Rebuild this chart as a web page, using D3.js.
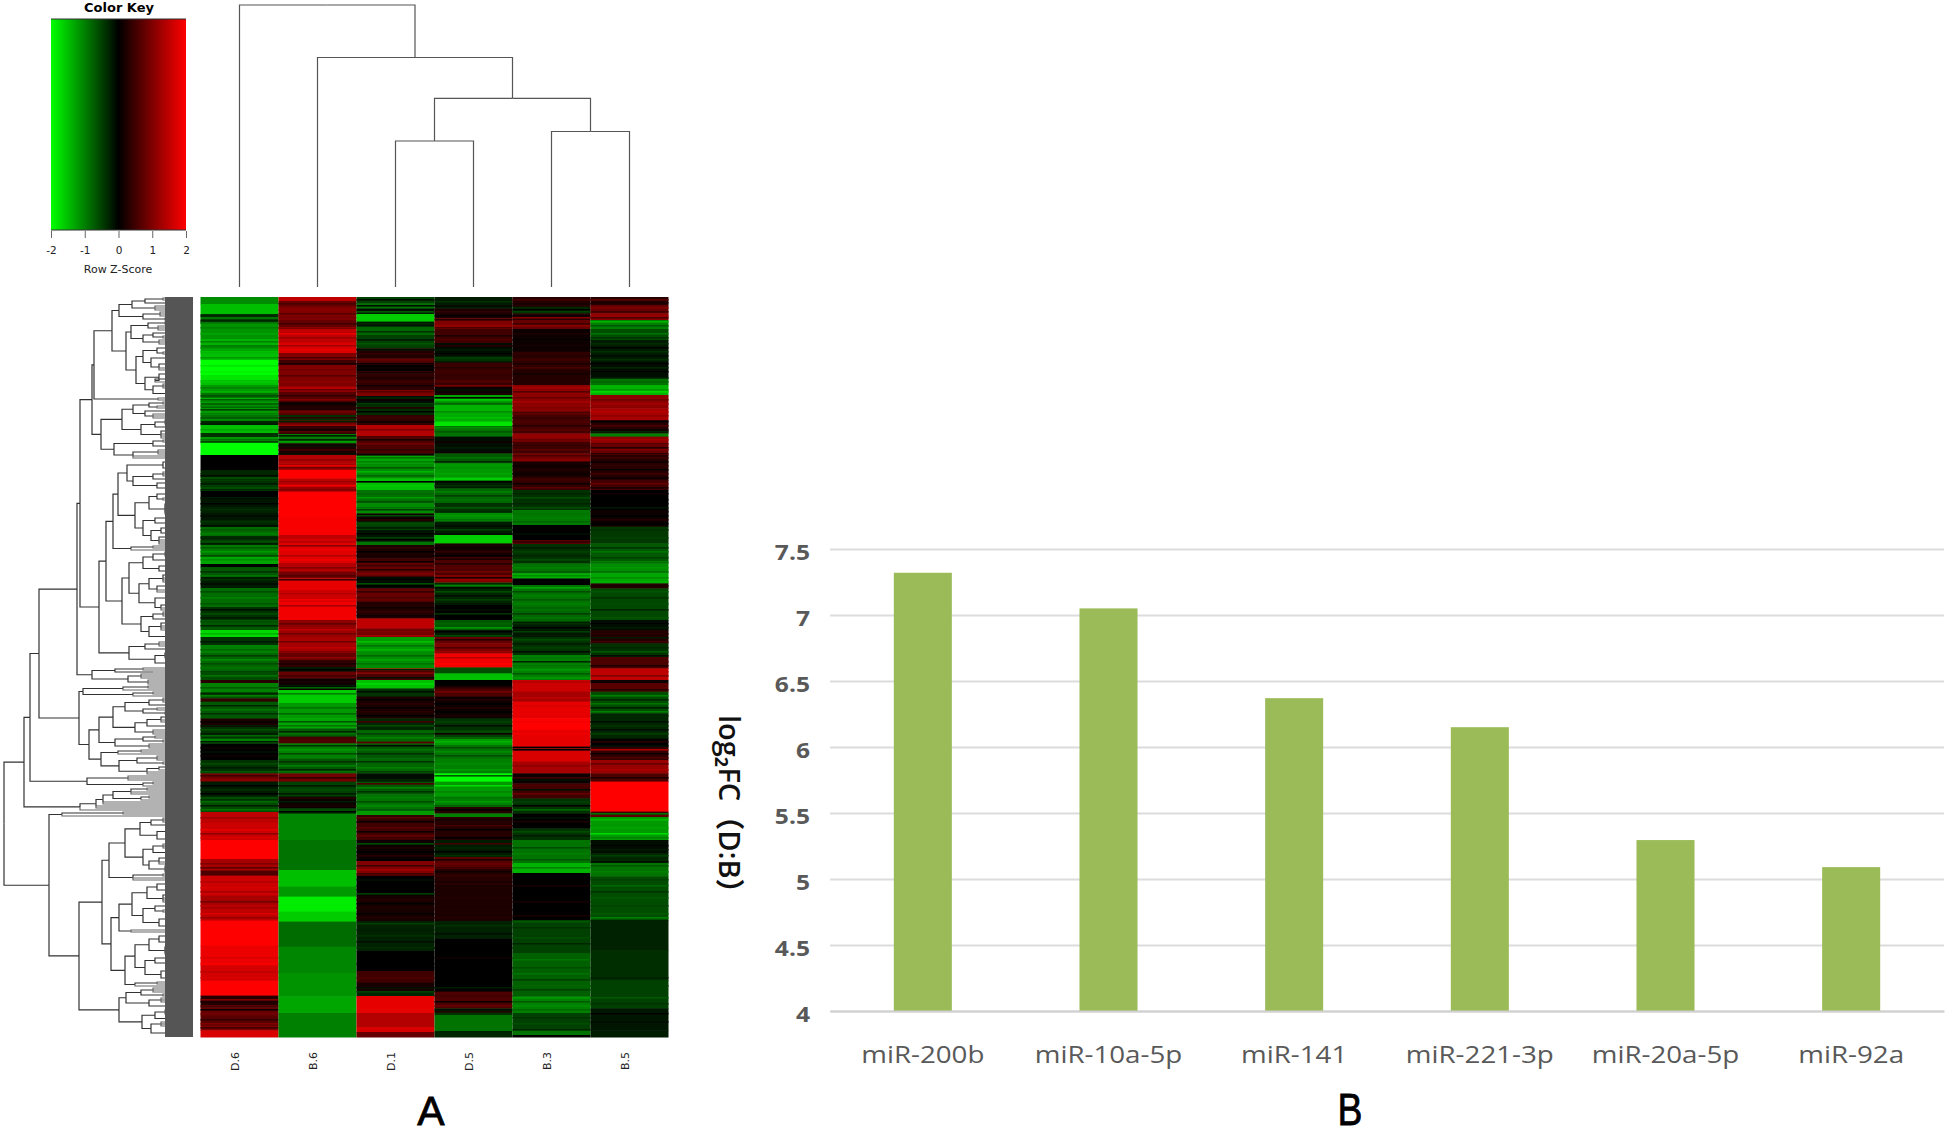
<!DOCTYPE html>
<html lang="en">
<head>
<meta charset="UTF-8">
<title>miRNA heatmap and log2FC bars</title>
<script src="https://d3js.org/d3.v7.min.js"></script>
<style>
  body { margin: 0; background: #fff; }
  svg { display: block; }
  text { font-family: "DejaVu Sans", sans-serif; }
  .bars text { font-family: "Open Sans", "Noto Sans CJK SC", sans-serif; fill: #595959; }
</style>
</head>
<body>
<svg id="chart" width="1946" height="1134"></svg>
<script>
  // Panel A: samples in heatmap order
  const samples = ["D.6", "B.6", "D.1", "D.5", "B.3", "B.5"];

  // Row z-scores per sample, as runs of [last row of the run, z]
  const zD6 = [[3.5,-1.1],[8.5,-1.5],[10,-0.4],[11,-0.9],[13,-0.5],[21,-1.15],[24,-1.4],[25.5,-1],[28,-1.3],[31.5,-1.5],[39,-2],[41.5,-1.8],[44,-1.5],[48,-1.2],[50.5,-0.9],[53,-1.4],[55.5,-0.8],[59,-1.2],[62,-0.9],[64,-0.3],[68,-1.5],[70,-0.4],[73,-1.2],[79,-2],[86.5,-0.02],[90,-0.3],[92,-0.6],[95,-0.4],[97,-0.6],[101,-0.05],[105,-0.15],[108,-0.25],[111.5,-0.15],[115,-0.3],[119.5,-0.85],[121.5,-0.35],[124,-0.5],[130,-0.95],[133.5,-1.3],[135,-0.05],[140,-0.7],[145.5,-0.2],[155,-0.85],[161.5,-0.4],[166.5,-0.7],[170,-1.7],[174,-0.4],[178,-1],[188,-0.8],[191.5,-0.6],[193,0.3],[197.5,-1],[200.7,-0.6],[202.3,0.4],[210.7,-0.7],[215,0.2],[220.8,-0.4],[223.2,-1],[231.5,0],[238.2,-0.4],[242.3,0.9],[249.8,-0.2],[257.5,-0.6],[263,1.5],[271.5,1.6],[281,2],[286.8,1.3],[289.3,0.6],[299.3,1.6],[306,1.3],[311.8,1.5],[324.3,2],[334.3,1.85],[341.8,1.65],[349.3,2],[355.2,0.3],[359.3,0.8],[364.3,0.7],[366.7,1],[370,1.7]];
  const zB6 = [[2,1.5],[4.8,0.8],[11.5,1],[16,0.8],[22.8,1.5],[28,1.7],[31.5,1],[34,0.5],[44.8,1],[47.3,1.4],[52.3,0.7],[56.5,0.2],[59,0.7],[61.8,-0.4],[64.5,1.2],[68.5,0.4],[70.7,-1],[73.2,-0.8],[79,0.2],[83.2,1.4],[86.5,1.3],[90.7,2],[94.8,1.5],[97.3,1.2],[110,2],[119,1.95],[123,1.5],[133,1.75],[137.3,1.4],[140.7,0.9],[146.5,1.8],[152.3,1.6],[161.5,1.9],[164.8,1.1],[170,1.2],[178,1.3],[181.5,0.8],[185,0.4],[187.3,-0.2],[190.7,0.8],[196.5,0.1],[203,-1.6],[210.7,-1.2],[215.7,-1.3],[219.8,-0.7],[223.2,0.6],[230.7,-1],[238.2,-0.7],[242.3,0.9],[249.8,-0.5],[255.7,0.1],[258.5,-0.6],[271.5,-1.05],[286.5,-0.9],[294.8,-1.5],[299.8,-1.2],[307.3,-1.85],[312.3,-1.6],[324.8,-0.85],[338,-1.05],[349.7,-1.15],[358,-1.3],[370,-1]];
  const zD1 = [[3.2,-0.5],[5.7,-0.9],[8.5,-0.2],[12.3,-1.6],[14.8,-0.15],[19,-0.8],[25.7,-0.5],[30.7,0.25],[34,0.6],[38.2,0],[46.5,0.35],[49.5,1],[54,-0.1],[59,-0.35],[64,0.4],[69.5,1.4],[78.2,0.6],[79.3,0.1],[83.2,-1.3],[90.7,-1.1],[96.5,-1.5],[103.2,-0.9],[108.2,-1.1],[112.3,0.1],[116.5,-0.5],[122.3,-0.15],[124,-0.9],[130.7,0.2],[134.8,0.5],[139.8,0.8],[145.7,-0.1],[152.3,0.8],[160.7,0.25],[165.7,1.5],[170,0.9],[177.3,-1.2],[185.7,-1.1],[188.2,1.5],[191.5,0.6],[195.7,-1.5],[199.8,-0.4],[210.7,0.2],[216.5,-0.3],[222.3,-0.8],[223.2,0.7],[230.7,-0.7],[238.2,-0.8],[242.3,-0.1],[248.7,-0.7],[257,-0.9],[259,-1.2],[263,0.4],[271.5,0.5],[282,0.1],[289.3,1],[299.3,-0.05],[312,0.15],[327,-0.25],[337,-0.05],[342.8,0.5],[347,0.15],[349.5,-0.3],[358,1.8],[365,1.4],[367.5,1.7],[370,0.8]];
  const zD5 = [[5.7,-0.2],[10.7,0.2],[16,1],[23,0.5],[29.8,-0.1],[32.3,-0.4],[41.5,0.45],[44.8,0.6],[49,0.1],[52.3,-1.3],[54,-1.1],[58,-1.4],[62.3,-1.35],[64.5,-1.8],[69.8,-0.9],[78.2,-0.1],[83.2,-0.7],[90.3,-1.2],[91.8,-1.6],[95.7,-0.2],[103.2,-0.8],[107.8,-0.4],[112.3,-1.1],[119,-0.2],[123.2,-1.6],[131.5,0.15],[139,0.6],[142.8,1],[144.8,-1],[154,-0.3],[161.5,-0.05],[166.5,-0.7],[170,-0.2],[173.2,0.8],[178.2,1],[185.2,1.9],[188.2,-0.6],[191.5,-1.5],[194.8,0],[199.8,0.6],[210.7,0.1],[216.5,-0.4],[220.8,-0.5],[224,-1.2],[231,-0.9],[238.2,-1],[242.3,-2],[249.8,-1.2],[255,-1],[258.2,0.3],[260,-1],[271.5,0.3],[280,-0.2],[286,0.7],[294,0.3],[312,0.2],[320.7,-0.25],[338,0.02],[347.3,0.02],[355.7,0.6],[359,-0.4],[367,-0.9],[370,-0.3]];
  const zB3 = [[4.8,0.3],[8.2,-0.3],[11.5,0.3],[16,0.8],[27.3,0.1],[36.5,0.35],[44,0.25],[49,1.1],[57.3,1.1],[68.2,0.55],[72.3,1.1],[78.2,0.5],[82.3,0.9],[90,0.15],[96.5,0.4],[106.5,-0.4],[114,-0.95],[121.5,-0.02],[123.5,0.7],[133.2,-0.4],[138.2,-0.9],[140.7,-1.4],[144,-0.05],[154.8,-0.9],[162.3,-0.8],[166.5,-0.2],[170,-0.15],[179,-0.4],[191.5,-1],[197.3,1.6],[202.3,1.3],[210.7,1.8],[216.5,2],[224.8,1.8],[225.7,0],[232.3,1.7],[238.2,1.3],[243.2,0.1],[250.7,0.5],[258.2,-0.4],[265.7,0.05],[271.5,-0.4],[283,-0.9],[288,-1.4],[311.5,0.05],[328,-0.5],[349.7,-0.75],[358,-1],[366.7,-0.5],[369,-0.9],[370,0]];
  const zB5 = [[4,0.3],[8.2,0.8],[11.5,1.1],[16,-1],[21.5,-0.6],[32.3,-0.2],[40.7,-0.1],[44,-0.9],[49,-1.4],[55.7,1.1],[61.5,1.3],[68.2,0.3],[69.8,-1],[74,1.1],[79,0.8],[91.5,0.3],[96.5,0.5],[106.5,0],[114.8,0.1],[123.2,-0.45],[133.2,-0.7],[138.2,-1.1],[143.2,-1.3],[145.7,0.3],[161.5,-0.55],[166.5,-0.1],[173.2,0.25],[180,-0.4],[185.7,0.6],[191.5,1.5],[193,0.1],[197.3,0.7],[208.2,-0.6],[220.8,-0.3],[225,0],[231.5,0.4],[238.2,1.2],[242.3,0.6],[257.3,2],[260,0.5],[271.5,-1.2],[278,-0.1],[283,-0.3],[289.7,-0.9],[311.5,-0.6],[326.5,-0.25],[341.5,-0.35],[355.7,-0.5],[366.7,-0.15],[370,-0.2]];
  const heatColumns = [zD6, zB6, zD1, zD5, zB3, zB5];

  // Single thin rows inside those runs, as [row, z]
  const lineD6 = [[9,-0.3],[11.5,-0.3],[12.5,-0.9],[15,-1],[18,-1.3],[22,-1],[25,-1.1],[27,-1.5],[30,-1.2],[34,-1.8],[37,-1.9],[42,-1.6],[45,-1],[47,-1.4],[49,-0.6],[51,-0.7],[52,-1.1],[54,-1.1],[56,-0.5],[58,-1],[60,-0.7],[61,-1.1],[63,-0.2],[66,-1.3],[71,-0.9],[72,-0.5],[88,-0.3],[89,-0.1],[91,-0.4],[93,-0.2],[94,-0.5],[96,-0.3],[100,-0.2],[103,-0.05],[106,-0.35],[109,-0.1],[112,-0.4],[114,-0.1],[116,-0.7],[118,-1],[120,-0.3],[122,-0.6],[123,-0.2],[125,-0.7],[127,-1.2],[129,-0.6],[131,-1.1],[137,-0.4],[139,-0.9],[141,-0.4],[143,-0.1],[147,-0.6],[150,-1],[153,-0.7],[156,-0.1],[158,-0.6],[160,-0.2],[162,-0.6],[164,-0.3],[168,-1.4],[172,-0.2],[176,-0.8],[179,-0.5],[181,-1.1],[183,-0.6],[185,-0.9],[187,-0.5],[189,-0.9],[195,-0.7],[198,-0.3],[199,-1],[204,-0.3],[206,-0.9],[208,-0.4],[212,0.1],[214,-0.2],[216,-0.6],[218,-0.2],[219,-0.8],[222,-0.2],[225,0.1],[227,-0.1],[229,0.1],[233,-0.6],[235,-0.2],[237,-0.7],[239,0.5],[241,1.1],[244,-0.05],[246,-0.4],[248,-0.05],[251,-0.4],[252,-0.8],[254,-0.2],[256,-0.9],[260,1.2],[266,1.8],[268,1.1],[270,1.7],[283,1],[285,0.7],[292,1.4],[295,1.7],[297,1.3],[302,0.9],[304,1.5],[308,1.7],[310,1.2],[330,1.7],[333,1.95],[337,1.5],[340,1.7],[351,1],[352,0.2],[354,0.7],[356,0.1],[358,0.9],[361,0.4],[363,1],[365,0.5]];
  const lineB6 = [[3,0.6],[6,1.1],[8,0.7],[10,0.9],[13,0.5],[15,1.1],[18,1.8],[20,1.2],[24,1.3],[26,1.8],[30,0.6],[33,0.2],[36,0.9],[39,0.7],[42,1.1],[46,0.8],[49,0.4],[51,1],[53,0.1],[55,0.3],[57,0.9],[60,0.4],[62,-0.2],[63,0.9],[66,0.1],[67,0.7],[69,-0.2],[71,-0.3],[72,-1.3],[74,-0.1],[76,0.5],[78,-0.1],[81,1.1],[84,1.8],[85,0.9],[92,1.2],[94,1.9],[96,1],[121,1.7],[124,1.1],[126,1.9],[129,1.4],[131,1.9],[135,1],[138,0.9],[139,0.6],[141,0.5],[148,1.4],[151,1.9],[154,1.3],[163,0.8],[166,1.5],[168,0.9],[172,0.9],[175,1.5],[177,1],[180,1.1],[183,0.2],[186,0],[189,0.5],[192,0.2],[194,-0.2],[195,-0.8],[198,-1],[205,-0.9],[208,-0.8],[212,-0.7],[214,-0.9],[217,-0.3],[218,-0.9],[220,0.5],[224,-0.4],[226,-1.2],[228,-0.6],[232,-0.4],[234,-1],[236,-0.3],[237,-0.9],[240,0.4],[244,-0.2],[246,-0.6],[248,-0.2],[250,0.3],[252,-0.2],[254,0.2],[257,0]];
  const lineD1 = [[1,-0.1],[4,-0.1],[6,-0.1],[7,-0.7],[13,-0.3],[17,-0.4],[21,-0.2],[23,-0.7],[26,-0.1],[28,0.4],[31,0.8],[33,0.1],[35,0.1],[37,0.4],[40,0.2],[42,0.5],[44,0.15],[47,0.7],[50,-0.3],[51,0.1],[53,-0.5],[55,0.3],[57,-0.05],[60,0.5],[62,0.1],[66,1],[71,0.2],[73,0.9],[76,0.4],[80,-0.9],[82,-1],[85,-0.7],[87,-1.4],[89,-0.8],[92,-0.05],[94,-1.6],[98,-0.8],[100,-1.2],[102,-0.6],[105,-0.9],[106,-0.5],[109,-0.6],[111,0.3],[113,-0.6],[115,-0.2],[118,0],[120,-0.5],[121,0],[125,0.4],[127,-0.05],[129,0.15],[132,0.1],[133,0.8],[136,0.3],[138,1],[141,-0.05],[143,-0.6],[144,0.05],[147,0.4],[150,0.6],[155,0.1],[157,0.4],[159,0.1],[167,1],[169,1.3],[172,-1.5],[174,-0.9],[176,-1.4],[179,-0.8],[181,-1.3],[183,-0.9],[186,-0.2],[187,0.6],[190,-0.1],[193,-1.7],[197,-0.1],[201,-0.05],[203,0.3],[205,0.05],[207,0.3],[209,-0.05],[212,0.5],[214,-0.6],[218,-0.5],[220,-1],[224,-0.1],[226,-0.9],[228,-0.4],[232,-0.4],[235,-1],[237,-0.5],[239,-0.1],[241,-0.3],[243,0.6],[245,-1],[247,-0.4],[250,-1],[252,-0.6],[254,-1.1],[256,-0.7],[260,0.7],[262,0.1],[265,0.7],[267,0.1],[269,0.8],[273,-0.6],[275,0.2],[277,-0.05],[279,0.3],[281,-0.05],[284,0.5],[286,1.3],[288,0.5],[291,-0.1],[294,-0.05],[296,0.05],[298,-0.5],[301,0.3],[303,-0.05],[305,0.25],[308,-0.05],[310,0.3],[313,-0.5],[316,-0.25],[319,-0.4],[322,-0.1],[325,-0.35],[333,0.05],[340,0.6],[345,-0.1],[347,-0.5]];
  const lineD5 = [[2,-0.4],[4,-0.1],[7,0.4],[9,0.05],[11,0.3],[14,1.2],[15,0.6],[17,0.5],[19,0.2],[21,0.6],[24,0.3],[26,-0.2],[28,-0.05],[30,-0.5],[32,-0.2],[35,0.3],[37,0.5],[39,0.4],[43,0.4],[44,0.9],[46,-0.1],[48,0.2],[50,-0.1],[51,-1.6],[53,-0.8],[55,-1.4],[57,-1.1],[60,-1.5],[65,-1.1],[67,-0.7],[70,-0.1],[72,0.1],[75,-0.2],[77,0.1],[80,-0.9],[82,-0.3],[85,-1.1],[88,-1.3],[92,-0.05],[94,-0.4],[97,-1],[99,-0.5],[101,-0.9],[103,-0.4],[105,-0.7],[107,-0.3],[109,-1.2],[111,-0.9],[114,-0.1],[116,-0.5],[118,-0.1],[125,0.1],[127,0.4],[129,0],[130,0.5],[133,0.3],[135,0.7],[137,0.9],[140,0.2],[141,1.2],[143,-0.3],[145,-0.1],[147,-0.6],[149,-0.1],[151,-0.5],[153,-0.15],[156,-0.1],[158,-0.4],[160,-0.05],[163,-0.8],[165,-1.2],[167,-0.05],[169,-0.6],[171,0.3],[175,0.6],[177,1.2],[180,1.5],[183,2],[195,0.3],[197,0.9],[201,0.3],[203,-0.05],[205,0.3],[207,-0.05],[209,0.2],[212,-0.5],[214,-0.1],[217,-0.6],[218,0.1],[220,-0.8],[222,-1.4],[225,-0.6],[227,-1.1],[229,-0.6],[233,-1.1],[236,-1.2],[239,-0.7],[244,-1.7],[247,-1.05],[250,-0.9],[252,-1.2],[254,-0.7],[256,-0.05],[261,0.15],[264,0.5],[266,0.05],[268,0.3],[270,-0.05],[273,0.5],[275,-0.3],[277,0],[279,-0.4],[281,0.2],[283,0.8],[285,0.5],[287,0.1],[289,0.4],[292,0.15],[300,0.3],[306,0.25],[310,0.3],[314,-0.4],[318,-0.1],[325,-0.02],[330,0.1],[335,-0.05],[345,-0.2],[349,0.5],[352,0.1],[354,0.8],[356,-0.1],[357,0.3]];
  const lineB3 = [[1,0.5],[3,0.15],[6,-0.05],[7,-0.5],[9,0.1],[10,1],[13,0.5],[14,1.1],[18,0.2],[21,0.05],[24,0.15],[29,0.3],[31,0.5],[33,0.2],[35,0.55],[38,0.15],[41,0.3],[45,1.3],[47,0.7],[50,0.8],[52,1.3],[55,1],[58,0.8],[60,0.4],[62,0.6],[64,0.3],[66,0.7],[69,1.2],[71,0.8],[74,0.4],[76,0.7],[79,0.6],[81,1.1],[84,0.1],[86,0.3],[88,0.1],[91,0.5],[93,0.1],[95,0.7],[98,-0.3],[100,-0.6],[103,-0.3],[105,-0.6],[108,-0.9],[110,-1],[112,-0.8],[116,0],[118,-0.1],[122,0.4],[125,-0.2],[127,-0.5],[129,-0.3],[131,-0.6],[135,-1],[137,-0.7],[139,-1.1],[142,-0.02],[145,-1.3],[147,-0.6],[149,-1],[151,-0.7],[153,-1],[156,-0.9],[158,-0.5],[160,-0.9],[163,-0.4],[165,-0.05],[167,-0.5],[169,-0.2],[171,-0.6],[173,-0.2],[175,-0.5],[177,-0.1],[180,-0.9],[182,-0.3],[184,-0.9],[186,-1.2],[188,-0.7],[190,-1.2],[192,1.4],[200,1.5],[204,1.7],[212,1.9],[218,1.9],[226,0],[234,1.1],[240,0.5],[241,-0.1],[244,0.6],[246,-0.1],[248,0.8],[252,-0.5],[254,-0.05],[256,-0.8],[260,-0.1],[262,0.2],[264,-0.05],[267,-0.6],[269,-0.2],[272,-0.9],[275,-0.6],[278,-1],[281,-0.7],[285,-1],[290,0.05],[294,0.15],[298,0.02],[302,0.15],[306,0.02],[309,0.2],[312,-0.7],[315,-0.4],[320,-0.6],[323,-0.3],[331,-0.9],[335,-0.6],[338,-0.9],[341,-0.5],[344,-0.8],[346,-0.5],[350,-1.2],[352,-0.7],[354,-1.1],[356,-0.8],[360,-0.4],[363,-0.6],[366,-0.3]];
  const lineB5 = [[1,0.7],[2.5,0.2],[5,1],[7,0.5],[9,1.2],[10,0.6],[12,-1.4],[14,-0.7],[18,-0.9],[20,-0.4],[23,-0.35],[25,-0.05],[27,-0.4],[29,-0.1],[31,-0.4],[33,-0.05],[35,-0.3],[37,-0.05],[40,-0.2],[42,-0.8],[46,-1.2],[47,-1.7],[51,0.9],[53,1.3],[57,1.4],[59,1.1],[62,0.05],[64,0.6],[66,0.1],[67,-0.3],[71,1.3],[73,0.7],[75,0.3],[76,1],[78,0.4],[80,0.5],[82,0.1],[84,0.4],[86,0.05],[88,0.5],[90,0.1],[93,0.8],[95,0.2],[98,0.1],[101,0],[103,0.05],[105,-0.15],[107,0.1],[109,-0.05],[111,0.3],[113,0.02],[116,-0.35],[120,-0.5],[125,-0.4],[127,-0.9],[130,-0.5],[132,-1],[135,-1.2],[137,-0.9],[140,-1.1],[142,-1.4],[144,0.2],[147,-0.7],[150,-0.4],[153,-0.6],[156,-0.3],[160,-0.7],[163,-0.05],[165,-0.2],[168,0.3],[170,-0.2],[172,0.5],[175,-0.3],[177,-0.7],[179,-0.1],[182,0.6],[184,0.2],[187,1.5],[189,1],[196,0.3],[199,-1],[201,-0.3],[203,-0.9],[205,-0.2],[207,-1],[209,-0.3],[212,-0.1],[214,-0.4],[216,-0.1],[218,-0.5],[222,0.3],[224,-0.1],[226,1.3],[228,0.1],[230,0.6],[233,0.8],[236,1.3],[240,0.2],[258,-0.9],[259,0.8],[261,-1.5],[265,-1.3],[268,-1.7],[270,-1],[274,-0.05],[276,-0.2],[279,-0.5],[282,-0.1],[284,-0.7],[287,-1],[291,-0.5],[294,-0.8],[297,-0.4],[300,-0.7],[304,-0.5],[308,-0.7],[310,-1],[340,-0.25],[344,-0.5],[350,-0.7],[353,-0.4],[358,-0.05],[362,-0.1]];
  const heatLines = [lineD6, lineB6, lineD1, lineD5, lineB3, lineB5];
  const rowCount = 370;

  // Column dendrogram: [height, child, child], a child is a sample index or a branch
  const colTree = [282, 0, [229.5, 1, [188.7, [146, 2, 3], [155.5, 4, 5]]]];

  // Row dendrogram clades: [height, ...children], a number child is that many leaf rows
  const c1 = [74,[61,[48,[30,2],[26,2]],[38,3]],[50,[33,3],[28,2]]];
  const c2 = [62,[45,[28,2],[35,3]],[50,[40,[24,2],[30,2]],[34,3]]];
  const c3 = [50,[36,[22,3],[30,2]],[42,[26,3],[34,[20,3],2]]];
  const c4 = [48,[34,[24,3],[38,[20,2],1]],[40,[30,3],[26,[18,2],2]]];
  const c5 = [35,2];
  const c6 = [71,[60,[44,[30,2],[36,2]],[48,[26,2],[40,3]]],[52,[38,[28,3],[22,2]],[32,[24,2],3]]];
  const c7 = [79,[40,[30,2],[24,3]],[60,[35,3],2]];
  const d1 = [66,[30,[22,3],[26,3]],[60,[40,[30,3],[24,2]],[36,[22,2],[26,3]]]];
  const d2 = [58,[44,[36,[24,3],[30,2]],[28,[18,3],4]],[50,[38,[26,3],[20,2]],[42,[32,[22,3],[16,2]],[34,[24,2],3]]]];
  const d3Clade = [62,[40,2],1];
  const e1 = [64,[50,[40,[28,3],[22,3]],[34,[24,3],[18,2]]],[54,[44,[30,[20,2],3],[36,[24,3],2]],[38,[26,5],[32,[22,2],2]]]];
  const e2 = [52,[40,[30,3],[24,2]],[44,[32,[20,2],3],[26,[16,2],3]]];
  const e3 = [64,[48,[34,3],[26,2]],[38,[28,[18,2],2],[24,4]]];
  const f1 = [101,[78,[50,2],[40,1]],[65,[52,3],[45,3]]];
  const g1 = [110,[70,[45,2],1],[60,[40,2],1]];
  const g2 = [80,[68,[44,[30,3],[22,2]],[50,[36,2],[28,2]]],[58,[46,[32,[20,2],2],[26,3]],[40,3]]];
  const g3 = [78,[50,[38,2],[30,2]],[44,3]];
  const g4 = [75,[52,2],1];
  const g5 = [74,[56,[36,3],[30,2]],[46,[34,[22,2],1],2]];
  const h1 = [106,[65,3],[50,[40,2],1]];
  const ladder = [113,[97,[90,[80,[62,[46,2],2],[52,[44,2],1]],2],2],1];
  const i0 = [131,[70,1,1],1];
  const i1 = [53,[42,[30,3],[24,2]],[36,[26,[16,2],2],[22,4]]];
  const i2 = [50,[40,[30,3],[22,[16,2],1]],[44,[34,[24,3],2],[28,4]]];
  const i3 = [60,[30,2],2];
  const j1 = [61,[46,[36,[26,3],[20,3]],[30,[18,2],3]],[50,[38,[24,3],[30,2]],[34,[22,[16,3],2],[26,3]]]];
  const j2 = [62,2];
  const k1 = [58,[44,[34,[24,3],[18,3]],[28,[20,2],3]],[48,[38,[26,3],[22,2]],[32,[24,[14,3],2],[20,3]]]];
  const k2 = [58,[36,2],1];
  const l1 = [67,[52,[40,3],[30,2]],[44,[32,3],[26,3]]];
  const l2 = [51,[38,[28,3],[20,[14,2],1]],[42,[32,3],[26,[18,3],2]]];

  const greenRows = [101, [99, [81, c1, [67, c2, [57, c3, c4]]], c5], [92, c6, c7]];
  const mixedRows = [94, [87, [80, [75, d1, d2], d3Clade], [71, e1, e2]], e3];
  const midRows = [114, g1, [104, [94, g2, g3], [92, g4, g5]]];
  const redRows = [114, [91, [84, [68, i1, i2], i3], [82, [74, j1, j2], [68, k1, k2]]], [74, l1, l2]];
  const rowTree = [189,
    [169, [163, [154, [116, [113, greenRows, mixedRows], f1], midRows], h1], ladder],
    [144, i0, redRows]];

  // Panel A colour key
  const keyTicks = [-2, -1, 0, 1, 2];

  // Panel B
  const mirnas = ["miR-200b", "miR-10a-5p", "miR-141", "miR-221-3p", "miR-20a-5p", "miR-92a"];
  const log2fc = [7.32, 7.05, 6.37, 6.15, 5.295, 5.09];
  const fcTicks = [4, 4.5, 5, 5.5, 6, 6.5, 7, 7.5];

  const svg = d3.select("#chart");
  const defs = svg.append("defs");
  defs.append("filter").attr("id", "soft")
    .append("feGaussianBlur").attr("stdDeviation", 0.45);

  const heatColor = d3.scaleLinear().domain([-2, 0, 2]).range(["#00ff00", "#000000", "#ff0000"]);

  // ----- heatmap -----
  const colX = d3.scaleBand().domain(samples).range([200.5, 668.5]);
  const rowY = d3.scaleLinear().domain([0, rowCount]).range([297, 1037]);

  const heat = svg.append("g").attr("filter", "url(#soft)");
  heatColumns.forEach((runs, c) => {
    heat.append("g").selectAll("rect")
      .data(runs)
      .enter()
      .append("rect")
      .attr("x", colX(samples[c]))
      .attr("width", colX.bandwidth())
      .attr("y", (d, i) => rowY(i ? runs[i - 1][0] : 0))
      .attr("height", (d, i) => rowY(d[0]) - rowY(i ? runs[i - 1][0] : 0) + 0.5)
      .attr("fill", d => heatColor(d[1]));
    heat.append("g").selectAll("rect")
      .data(heatLines[c])
      .enter()
      .append("rect")
      .attr("x", colX(samples[c]))
      .attr("width", colX.bandwidth())
      .attr("y", d => rowY(d[0]))
      .attr("height", rowY(0.8) - rowY(0))
      .attr("fill", d => heatColor(d[1]));
  });

  svg.append("g").selectAll("text")
    .data(samples)
    .enter()
    .append("text")
    .attr("transform", d => `translate(${colX(d) + colX.bandwidth() / 2 - 1},1052) rotate(-90)`)
    .attr("text-anchor", "end")
    .attr("font-size", 11)
    .attr("fill", "#222")
    .text(d => d);

  // ----- column dendrogram -----
  const colH = d3.scaleLinear().domain([0, 282]).range([287, 5]);
  const colRoot = d3.hierarchy(colTree, d => Array.isArray(d) ? d.slice(1) : null);
  colRoot.eachAfter(n => {
    if (n.children) {
      n.cx = (n.children[0].cx + n.children[n.children.length - 1].cx) / 2;
      n.cy = colH(n.data[0]);
    } else {
      n.cx = colX(samples[n.data]) + colX.bandwidth() / 2;
      n.cy = colH(0);
    }
  });
  svg.append("g")
    .selectAll("path")
    .data(colRoot.descendants().filter(n => n.parent))
    .enter()
    .append("path")
    .attr("d", n => `M${n.cx},${n.cy}V${n.parent.cy}H${n.parent.cx}`)
    .attr("fill", "none")
    .attr("stroke", "#555")
    .attr("stroke-width", 1.2);

  // ----- row dendrogram -----
  const rowH = d3.scaleLinear().domain([0, 189]).range([193, 4]);
  const rowRoot = d3.hierarchy(rowTree, d => {
    if (!Array.isArray(d)) return null;
    return d.slice(1).flatMap(c => typeof c === "number" ? d3.range(c).map(() => "leaf") : [c]);
  });
  let leafRow = 0;
  rowRoot.eachAfter(n => {
    if (n.children) {
      n.py = (n.children[0].py + n.children[n.children.length - 1].py) / 2;
      n.px = rowH(n.data[0]);
    } else {
      n.py = rowY(leafRow + 0.5);
      n.px = rowH(0);
      leafRow += 1;
    }
  });

  const dendro = svg.append("g").attr("filter", "url(#soft)");
  dendro.selectAll("path")
    .data(rowRoot.descendants().filter(n => n.parent))
    .enter()
    .append("path")
    .attr("d", n => `M${n.px},${n.py}H${n.parent.px}V${n.parent.py}`)
    .attr("fill", "none")
    .attr("stroke", n => n.children ? "#333" : "#666")
    .attr("stroke-width", 1.2);
  dendro.append("rect")
    .attr("x", rowH(28)).attr("width", rowH(0) - rowH(28))
    .attr("y", rowY(0)).attr("height", rowY(rowCount) - rowY(0))
    .attr("fill", "#555");

  // ----- colour key -----
  const keyX = d3.scaleLinear().domain([-2, 2]).range([51, 186]);
  const key = svg.append("g");
  const keyGrad = defs.append("linearGradient").attr("id", "keyGrad");
  keyGrad.selectAll("stop")
    .data(keyTicks)
    .enter()
    .append("stop")
    .attr("offset", d => (d + 2) / 4)
    .attr("stop-color", d => heatColor(d));
  key.append("rect")
    .attr("x", keyX(-2)).attr("width", keyX(2) - keyX(-2))
    .attr("y", 19).attr("height", 211)
    .attr("fill", "url(#keyGrad)");
  key.append("path")
    .attr("d", `M${keyX(-2)},19H${keyX(2)}M${keyX(-2)},230H${keyX(2)}`)
    .attr("stroke", "#333").attr("stroke-width", 1);
  const keyAxis = key.append("g")
    .attr("transform", "translate(0,231)")
    .call(d3.axisBottom(keyX).tickValues(keyTicks).tickFormat(d => d < 0 ? "-" + (-d) : d).tickSize(7).tickPadding(9));
  keyAxis.select(".domain").remove();
  keyAxis.selectAll("line").attr("stroke", "#666");
  keyAxis.selectAll("text").attr("font-size", 10.5).attr("fill", "#222");
  key.append("text").attr("x", 119).attr("y", 12)
    .attr("text-anchor", "middle").attr("font-size", 13).attr("font-weight", "bold")
    .text("Color Key");
  key.append("text").attr("x", 118).attr("y", 273)
    .attr("text-anchor", "middle").attr("font-size", 11).attr("fill", "#222")
    .text("Row Z-Score");

  // ----- bar chart -----
  const barX = d3.scaleBand().domain(mirnas).range([830, 1944])
    .paddingInner(0.6875).paddingOuter(0.34375);
  const barY = d3.scaleLinear().domain([4, 7.5]).range([1011, 549]);

  const bars = svg.append("g").attr("class", "bars");
  const yAxis = bars.append("g")
    .attr("transform", "translate(830,0)")
    .call(d3.axisLeft(barY).tickValues(fcTicks).tickFormat(d => d).tickSize(-(1944 - 830)).tickPadding(20));
  yAxis.select(".domain").remove();
  yAxis.selectAll("line").attr("stroke", "#dcdcdc").attr("stroke-width", 2);
  yAxis.selectAll("text")
    .attr("x", 0).attr("dy", null)
    .attr("transform", "translate(-20,10) scale(1.12,1)")
    .attr("font-size", 22).attr("font-weight", 700);

  bars.selectAll("rect")
    .data(log2fc)
    .enter()
    .append("rect")
    .attr("x", (d, i) => barX(mirnas[i]))
    .attr("width", barX.bandwidth())
    .attr("y", d => barY(d))
    .attr("height", d => barY(4) - barY(d))
    .attr("fill", "#9bbb59");

  const xAxis = bars.append("g")
    .attr("transform", "translate(0,1011)")
    .call(d3.axisBottom(barX).tickSize(0));
  xAxis.select(".domain").attr("stroke", "#d0d0d0").attr("stroke-width", 2);
  xAxis.selectAll("text")
    .attr("y", 0).attr("dy", null)
    .attr("transform", "translate(0,52) scale(1.18,1)")
    .attr("font-size", 23.5);

  bars.append("text")
    .attr("transform", "translate(719,715) rotate(90)")
    .attr("font-size", 29).attr("font-weight", 600)
    .style("fill", "#111")
    .text("log₂FC（D:B）");

  // ----- panel letters -----
  svg.append("text").attr("transform", "translate(431,1125)").attr("text-anchor", "middle")
    .style("font-family", "Liberation Sans")
    .attr("font-size", 41).attr("fill", "#000")
    .attr("stroke", "#000").attr("stroke-width", 0.8).text("A");
  svg.append("text").attr("transform", "translate(1350,1124.5) scale(0.85,1)").attr("text-anchor", "middle")
    .style("font-family", "Liberation Sans")
    .attr("font-size", 44).attr("fill", "#000")
    .attr("stroke", "#000").attr("stroke-width", 0.8).text("B");
</script>
</body>
</html>
